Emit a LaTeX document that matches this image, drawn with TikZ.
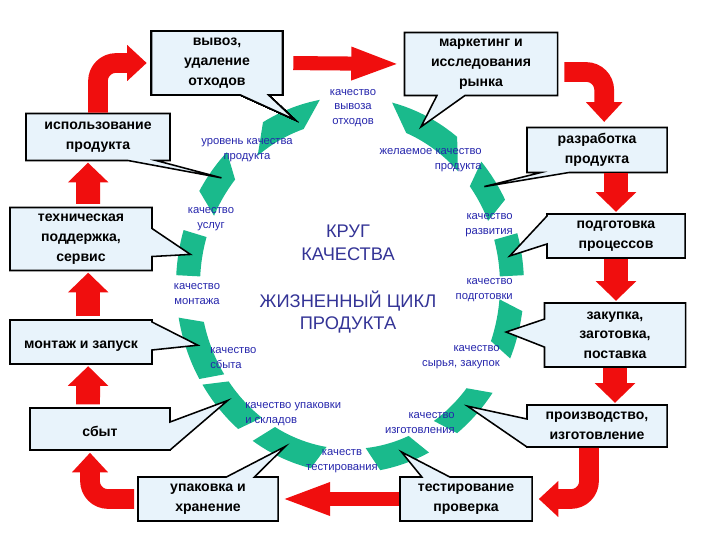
\documentclass[tikz,border=0pt]{standalone}
\usepackage{fontspec}
\setmainfont{Liberation Sans}
\usetikzlibrary{arrows.meta,shapes.callouts}
\definecolor{boxfill}{RGB}{232,243,251}
\definecolor{ringgreen}{RGB}{26,186,140}
\definecolor{labelblue}{RGB}{38,38,172}
\definecolor{titleblue}{RGB}{52,52,150}
\definecolor{arrowred}{RGB}{240,14,14}
\tikzset{
  StageStyle/.style = {rectangle callout, draw=black, line width=1.1pt, fill=boxfill,
                       font=\bfseries\fontsize{10}{14}\selectfont, align=center,
                       inner sep=0pt, callout pointer width=0.7cm,
                       execute at begin node={\rule{0pt}{11pt}}},
  QualityStyle/.style = {text=labelblue, font=\fontsize{8}{10.5}\selectfont, inner sep=0pt},
  TitleStyle/.style = {text=titleblue, font=\fontsize{13}{16}\selectfont, align=center},
  RingStyle/.style = {fill=ringgreen},
  StepFlow/.style = {draw=arrowred, line width=17pt, -{Triangle[length=14pt,width=28pt]}},
  LineFlow/.style = {draw=arrowred, line width=10pt, -{Triangle[length=35pt,width=21pt]}},
  BendFlow/.style = {draw=arrowred, line width=14pt, rounded corners=0.45cm,
                     -{Triangle[length=14pt,width=25pt]}} }
\newcommand\RingPiece[4]{%
  \fill[RingStyle] plot[domain=#2:#3,samples=12] ({350+174*cos(\x)},{255+188*sin(\x)})
    -- plot[domain=#3:#2,samples=12] ({350+150*cos(\x+#4)},{255+164*sin(\x+#4)}) -- cycle;
  \coordinate (#1) at ({350+162*cos((#2+#3)/2)},{255+176*sin((#2+#3)/2)});}

\begin{document}
\begin{tikzpicture}[x=0.025cm, y=0.025cm]
  \useasboundingbox (0,0) rectangle (720,540);
  \foreach \name/\from/\to/\skew in {gvyvoz/100/120/8, gmark/52/76/-8, grazr/27/41/-4,
      gpodg/3/16/0, gzak/-23/-8/3, gproizv/-52/-35/-4, gtest/-80/-63/-4,
      gupak/-124/-103/4, gsbyt/-148/-130/4, gmontazh/-170/-150/3,
      gtech/163/177/0, guse/135/150/5}
    \RingPiece{\name}{\from}{\to}{\skew}
  \node[StageStyle, minimum width=3.275cm, minimum height=1.6cm,
        callout absolute pointer={(gvyvoz)}] (vyvoz) at (217,477) {вывоз,\\удаление\\отходов};
  \node[StageStyle, minimum width=3.825cm, minimum height=1.575cm,
        callout absolute pointer={(gmark)}] (mark) at (481,476) {маркетинг и\\исследования\\рынка};
  \node[StageStyle, minimum width=3.5cm, minimum height=1.125cm,
        callout absolute pointer={(grazr)}] (razr) at (597,390) {разработка\\продукта};
  \node[StageStyle, minimum width=3.45cm, minimum height=1.1cm,
        callout absolute pointer={(gpodg)}] (podg) at (616,304) {подготовка\\процессов};
  \node[StageStyle, minimum width=3.525cm, minimum height=1.6cm,
        callout absolute pointer={(gzak)}] (zak) at (615,205) {закупка,\\заготовка,\\поставка};
  \node[StageStyle, minimum width=3.5cm, minimum height=1.05cm,
        callout absolute pointer={(gproizv)}] (proizv) at (597,114) {производство,\\изготовление};
  \node[StageStyle, minimum width=3.3cm, minimum height=1.1cm,
        callout absolute pointer={(gtest)}] (test) at (466,41) {тестирование\\проверка};
  \node[StageStyle, minimum width=3.5cm, minimum height=1.1cm,
        callout absolute pointer={(gupak)}] (upak) at (208,41) {упаковка и\\хранение};
  \node[StageStyle, minimum width=3.5cm, minimum height=1.05cm,
        callout absolute pointer={(gsbyt)}] (sbyt) at (100,111) {сбыт};
  \node[StageStyle, minimum width=3.55cm, minimum height=1.1cm,
        callout absolute pointer={(gmontazh)}] (montazh) at (81,198) {монтаж и запуск};
  \node[StageStyle, minimum width=3.55cm, minimum height=1.575cm,
        callout absolute pointer={(gtech)}] (tech) at (81,301) {техническая\\поддержка,\\сервис};
  \node[StageStyle, minimum width=3.6cm, minimum height=1.175cm,
        callout absolute pointer={(guse)}] (use) at (98,403) {использование\\продукта};
  \node[QualityStyle, align=center] (qvyvoz) at (353,432) {качество\\вывоза\\отходов};
  \node[QualityStyle, align=right, anchor=east] (qmark) at (482,380) {желаемое качество\\продукта};
  \node[QualityStyle, align=right, anchor=east] (qrazr) at (513,315) {качество\\развития};
  \node[QualityStyle, align=right, anchor=east] (qpodg) at (513,250) {качество\\подготовки};
  \node[QualityStyle, align=right, anchor=east] (qzak) at (500,183) {качество\\сырья, закупок};
  \node[QualityStyle, align=right, anchor=east] (qproizv) at (455,117) {качество\\изготовления};
  \node[QualityStyle, align=center] (qtest) at (342,79) {качеств\\тестирования};
  \node[QualityStyle, align=left, anchor=west] (qupak) at (245,126) {качество упаковки\\и складов};
  \node[QualityStyle, align=left, anchor=west] (qsbyt) at (210,182) {качество\\сбыта};
  \node[QualityStyle, align=center] (qmontazh) at (197,246) {качество\\монтажа};
  \node[QualityStyle, align=center] (qtech) at (211,321) {качество\\услуг};
  \node[QualityStyle, align=center] (quse) at (247,390) {уровень качества\\продукта};
  \node[TitleStyle] (krug) at (348,297) {КРУГ\\КАЧЕСТВА};
  \node[TitleStyle] (lifecycle) at (348,228) {ЖИЗНЕННЫЙ ЦИКЛ\\ПРОДУКТА};
  \draw[BendFlow, shorten >=0.1cm] (use.north) |- (vyvoz.west);
  \draw[LineFlow, shorten <=0.25cm, shorten >=0.08cm] (vyvoz.east) -- (mark.west);
  \draw[BendFlow, shorten <=0.15cm, shorten >=0.12cm] ([yshift=-0.2cm]mark.east) -| ([xshift=0.18cm]razr.north);
  \draw[StepFlow, shorten >=1pt] (razr.south -| podg.north) -- (podg.north);
  \draw[StepFlow, shorten >=1pt] (podg.south) -- (podg.south |- zak.north);
  \draw[StepFlow, shorten >=1pt] (zak.south) -- (zak.south |- proizv.north);
  \draw[BendFlow, shorten >=0.15cm] ([xshift=-0.2cm]proizv.south) |- (test.east);
  \draw[LineFlow, shorten >=0.05cm] (test.west) -- (upak.east);
  \draw[BendFlow, shorten <=0.08cm, shorten >=0.05cm] (upak.west) -| ([xshift=-0.25cm]sbyt.south);
  \draw[StepFlow, shorten <=2pt, shorten >=1pt] ([xshift=-0.3cm]sbyt.north) -- ([xshift=0.18cm]montazh.south);
  \draw[StepFlow, shorten <=2pt, shorten >=1pt] ([xshift=0.18cm]montazh.north) -- ([xshift=0.18cm]tech.south);
  \draw[StepFlow, shorten <=2pt, shorten >=1pt] ([xshift=0.18cm]tech.north) -- ([xshift=-0.25cm]use.south);
\end{tikzpicture}
\end{document}
